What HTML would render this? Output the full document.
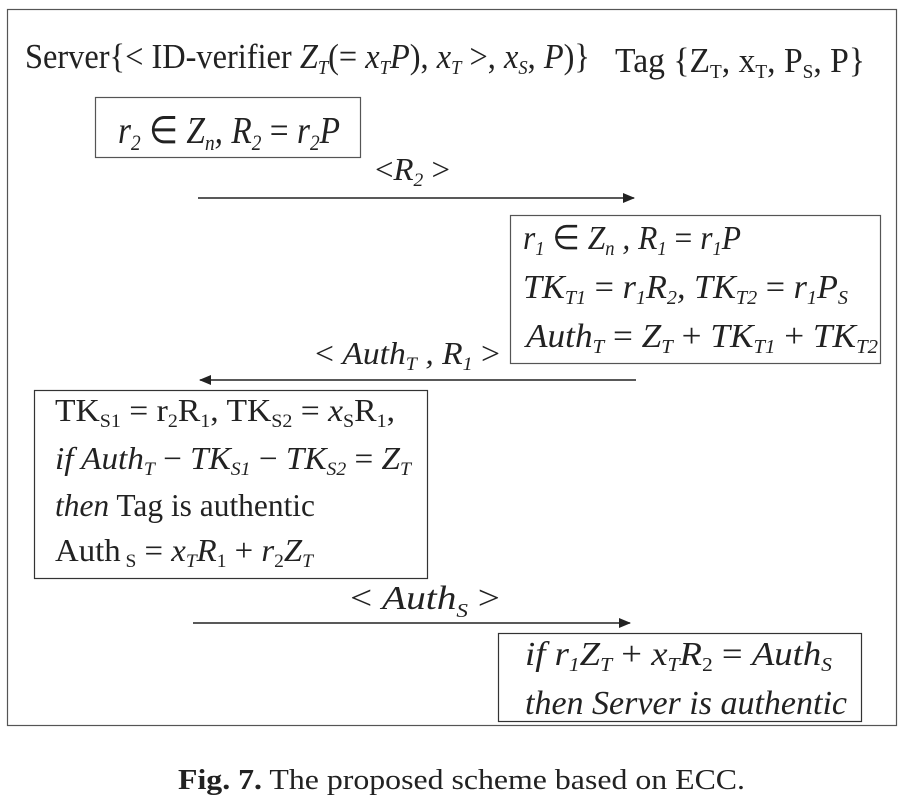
<!DOCTYPE html>
<html><head><meta charset="utf-8"><style>
html,body{margin:0;padding:0;background:#fff;width:910px;height:800px;overflow:hidden}
svg text{font-family:"Liberation Serif",serif;fill:#222}
.i{font-style:italic}
</style></head><body>
<svg width="910" height="800" viewBox="0 0 910 800">
<defs><marker id="ah" markerWidth="12" markerHeight="10" refX="11" refY="5" orient="auto" markerUnits="userSpaceOnUse"><path d="M0,0 L12,5 L0,10 z" fill="#222"/></marker></defs>
<rect x="7.5" y="9.5" width="889" height="716" fill="none" stroke="#555" stroke-width="1.2"/>

<text x="25" y="68" font-size="35" textLength="565" lengthAdjust="spacingAndGlyphs">Server{&lt; ID-verifier <tspan class="i">Z</tspan><tspan class="i" font-size="20" dy="6">T</tspan><tspan dy="-6">(= </tspan><tspan class="i">x</tspan><tspan class="i" font-size="20" dy="6">T</tspan><tspan class="i" dy="-6">P</tspan>), <tspan class="i">x</tspan><tspan class="i" font-size="20" dy="6">T</tspan><tspan dy="-6"> &gt;, </tspan><tspan class="i">x</tspan><tspan class="i" font-size="20" dy="6">S</tspan><tspan dy="-6">, </tspan><tspan class="i">P</tspan>)}</text>
<text x="615" y="72" font-size="35" textLength="250" lengthAdjust="spacingAndGlyphs">Tag {Z<tspan font-size="20" dy="6">T</tspan><tspan dy="-6">, x</tspan><tspan font-size="20" dy="6">T</tspan><tspan dy="-6">, P</tspan><tspan font-size="20" dy="6">S</tspan><tspan dy="-6">, P}</tspan></text>

<rect x="95.5" y="97.5" width="265" height="60" fill="none" stroke="#555" stroke-width="1.2"/>
<text x="118" y="143" font-size="38" class="i" textLength="222" lengthAdjust="spacingAndGlyphs">r<tspan font-size="22" dy="7">2</tspan><tspan dy="-7" font-style="normal"> ∈ </tspan>Z<tspan font-size="22" dy="7">n</tspan><tspan dy="-7">, R</tspan><tspan font-size="22" dy="7">2</tspan><tspan dy="-7" font-style="normal"> = </tspan>r<tspan font-size="22" dy="7">2</tspan><tspan dy="-7">P</tspan></text>

<text x="375" y="180" font-size="32" class="i" textLength="75" lengthAdjust="spacingAndGlyphs"><tspan font-style="normal">&lt;</tspan>R<tspan font-size="19" dy="6">2</tspan><tspan dy="-6" font-style="normal"> &gt;</tspan></text>
<line x1="198" y1="198" x2="634" y2="198" stroke="#222" stroke-width="1.5" marker-end="url(#ah)"/>

<rect x="510.5" y="215.5" width="370" height="148" fill="none" stroke="#555" stroke-width="1.2"/>
<g font-size="34" class="i">
<text x="523" y="249" class="i" textLength="218" lengthAdjust="spacingAndGlyphs">r<tspan font-size="20" dy="6">1</tspan><tspan dy="-6" font-style="normal"> ∈ </tspan>Z<tspan font-size="20" dy="6">n</tspan><tspan dy="-6"> , R</tspan><tspan font-size="20" dy="6">1</tspan><tspan dy="-6" font-style="normal"> = </tspan>r<tspan font-size="20" dy="6">1</tspan><tspan dy="-6">P</tspan></text>
<text x="523" y="298" class="i" textLength="325" lengthAdjust="spacingAndGlyphs">TK<tspan font-size="20" dy="6">T1</tspan><tspan dy="-6" font-style="normal"> = </tspan>r<tspan font-size="20" dy="6">1</tspan><tspan dy="-6">R</tspan><tspan font-size="20" dy="6">2</tspan><tspan dy="-6">, TK</tspan><tspan font-size="20" dy="6">T2</tspan><tspan dy="-6" font-style="normal"> = </tspan>r<tspan font-size="20" dy="6">1</tspan><tspan dy="-6">P</tspan><tspan font-size="20" dy="6">S</tspan></text>
<text x="526" y="347" class="i" textLength="352" lengthAdjust="spacingAndGlyphs">Auth<tspan font-size="20" dy="6">T</tspan><tspan dy="-6" font-style="normal"> = </tspan>Z<tspan font-size="20" dy="6">T</tspan><tspan dy="-6" font-style="normal"> + </tspan>TK<tspan font-size="20" dy="6">T1</tspan><tspan dy="-6" font-style="normal"> + </tspan>TK<tspan font-size="20" dy="6">T2</tspan></text>
</g>

<text x="315" y="364" font-size="32" class="i" textLength="185" lengthAdjust="spacingAndGlyphs"><tspan font-style="normal">&lt; </tspan>Auth<tspan font-size="19" dy="6">T</tspan><tspan dy="-6"> , R</tspan><tspan font-size="19" dy="6">1</tspan><tspan dy="-6" font-style="normal"> &gt;</tspan></text>
<line x1="636" y1="380" x2="200" y2="380" stroke="#222" stroke-width="1.5" marker-end="url(#ah)"/>

<rect x="34.5" y="390.5" width="393" height="188" fill="none" stroke="#333" stroke-width="1.2"/>
<g font-size="32">
<text x="55" y="421" textLength="340" lengthAdjust="spacingAndGlyphs">TK<tspan font-size="19" dy="6">S1</tspan><tspan dy="-6"> = r</tspan><tspan font-size="19" dy="6">2</tspan><tspan dy="-6">R</tspan><tspan font-size="19" dy="6">1</tspan><tspan dy="-6">, TK</tspan><tspan font-size="19" dy="6">S2</tspan><tspan dy="-6"> = </tspan><tspan class="i">x</tspan><tspan font-size="19" dy="6">S</tspan><tspan dy="-6">R</tspan><tspan font-size="19" dy="6">1</tspan><tspan dy="-6">,</tspan></text>
<text x="55" y="469" class="i" textLength="356" lengthAdjust="spacingAndGlyphs">if  Auth<tspan font-size="19" dy="6">T</tspan><tspan dy="-6" font-style="normal"> − </tspan>TK<tspan font-size="19" dy="6">S1</tspan><tspan dy="-6" font-style="normal"> − </tspan>TK<tspan font-size="19" dy="6">S2</tspan><tspan dy="-6" font-style="normal"> = </tspan>Z<tspan font-size="19" dy="6">T</tspan></text>
<text x="55" y="516" textLength="260" lengthAdjust="spacingAndGlyphs"><tspan class="i">then</tspan> Tag is authentic</text>
<text x="55" y="561" textLength="258" lengthAdjust="spacingAndGlyphs">Auth<tspan font-size="19" dy="6"> S</tspan><tspan dy="-6"> = </tspan><tspan class="i">x</tspan><tspan class="i" font-size="19" dy="6">T</tspan><tspan class="i" dy="-6">R</tspan><tspan font-size="19" dy="6">1</tspan><tspan dy="-6"> + </tspan><tspan class="i">r</tspan><tspan font-size="19" dy="6">2</tspan><tspan class="i" dy="-6">Z</tspan><tspan class="i" font-size="19" dy="6">T</tspan></text>
</g>

<text x="350" y="609" font-size="34" class="i" textLength="150" lengthAdjust="spacingAndGlyphs"><tspan font-style="normal">&lt; </tspan>Auth<tspan font-size="20" dy="8">S</tspan><tspan dy="-8" font-style="normal"> &gt;</tspan></text>
<line x1="193" y1="623" x2="630" y2="623" stroke="#222" stroke-width="1.5" marker-end="url(#ah)"/>

<rect x="498.5" y="633.5" width="363" height="88" fill="none" stroke="#333" stroke-width="1.2"/>
<text x="525" y="665" font-size="34" class="i" textLength="307" lengthAdjust="spacingAndGlyphs">if  r<tspan font-size="20" dy="6">1</tspan><tspan dy="-6">Z</tspan><tspan font-size="20" dy="6">T</tspan><tspan dy="-6" font-style="normal"> + </tspan>x<tspan font-size="20" dy="6">T</tspan><tspan dy="-6">R</tspan><tspan font-size="20" dy="6" font-style="normal">2</tspan><tspan dy="-6" font-style="normal"> = </tspan>Auth<tspan font-size="20" dy="6">S</tspan></text>
<text x="525" y="714" font-size="34" class="i" textLength="322" lengthAdjust="spacingAndGlyphs">then Server is authentic</text>

<text x="178" y="789" font-size="29" textLength="567" lengthAdjust="spacingAndGlyphs"><tspan font-weight="bold">Fig. 7.</tspan> The proposed scheme based on ECC.</text>
</svg>
</body></html>
